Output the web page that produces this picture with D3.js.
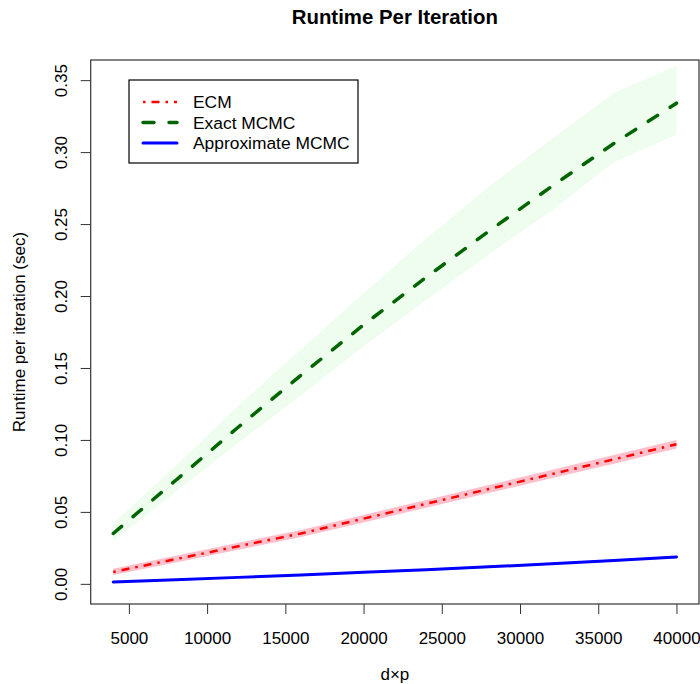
<!DOCTYPE html>
<html lang="en">
<head>
<meta charset="UTF-8">
<title>Runtime Per Iteration</title>
<script src="https://cdn.jsdelivr.net/npm/d3@7"></script>
<style>
  body { margin: 0; background: #fff; }
  text { font-family: "Liberation Sans", Arial, Helvetica, sans-serif; }
</style>
</head>
<body>
<script>
// problem size d x p
const sizes = [4000, 8000, 12000, 16000, 20000, 24000, 28000, 32000, 36000, 40000];

// ECM
const ecm    = [0.0083, 0.0172, 0.0261, 0.0350, 0.0453, 0.0556, 0.0659, 0.0762, 0.0865, 0.0970];
const ecmLo  = [0.0061, 0.0149, 0.0237, 0.0325, 0.0427, 0.0529, 0.0631, 0.0733, 0.0835, 0.0940];
const ecmHi  = [0.0105, 0.0195, 0.0285, 0.0375, 0.0479, 0.0583, 0.0687, 0.0791, 0.0895, 0.1000];

// Exact MCMC
const exact   = [0.035, 0.072, 0.109, 0.145, 0.180, 0.213, 0.245, 0.276, 0.306, 0.334];
const exactLo = [0.030, 0.064, 0.098, 0.131, 0.165, 0.197, 0.229, 0.259, 0.293, 0.312];
const exactHi = [0.042, 0.082, 0.124, 0.163, 0.202, 0.240, 0.276, 0.309, 0.341, 0.360];

// Approximate MCMC
const approx   = [0.0013, 0.0029, 0.0045, 0.0062, 0.0080, 0.0098, 0.0118, 0.0140, 0.0163, 0.0187];
const approxLo = [0.0008, 0.0024, 0.0040, 0.0056, 0.0074, 0.0092, 0.0111, 0.0133, 0.0156, 0.0180];
const approxHi = [0.0018, 0.0034, 0.0050, 0.0068, 0.0086, 0.0104, 0.0125, 0.0147, 0.0170, 0.0194];

const xTicks = [5000, 10000, 15000, 20000, 25000, 30000, 35000, 40000];
const yTicks = [0, 0.05, 0.10, 0.15, 0.20, 0.25, 0.30, 0.35];

const series = [
  { name: "ECM", mid: ecm, lo: ecmLo, hi: ecmHi, color: "red", band: "pink",
    width: 2.5, dash: "2.5,6,8,6", cap: "butt" },
  { name: "Exact MCMC", mid: exact, lo: exactLo, hi: exactHi, color: "#006400", band: "#effdef",
    width: 3.5, dash: "11,15", cap: "round" },
  { name: "Approximate MCMC", mid: approx, lo: approxLo, hi: approxHi, color: "blue", band: "lightskyblue",
    width: 3, dash: null, cap: "round" }
];

const width = 700, height = 684;
const mLeft = 90.7, mRight = 699, mTop = 60, mBottom = 604;

// R style 4% padding of the axis limits
const xlim = [4000, 40000], ylim = [0, 0.35];
const pad = (l) => [l[0] - 0.04 * (l[1] - l[0]), l[1] + 0.04 * (l[1] - l[0])];

const x = d3.scaleLinear().domain(pad(xlim)).range([mLeft, mRight]);
const y = d3.scaleLinear().domain(pad(ylim)).range([mBottom, mTop]);

const svg = d3.select("body").append("svg")
  .attr("width", width)
  .attr("height", height);

svg.append("clipPath").attr("id", "plotclip")
  .append("rect")
  .attr("x", mLeft).attr("y", mTop)
  .attr("width", mRight - mLeft).attr("height", mBottom - mTop);

const plot = svg.append("g").attr("clip-path", "url(#plotclip)");

// bands first
series.forEach(s => {
  const area = d3.area()
    .x((d, i) => x(sizes[i]))
    .y0((d, i) => y(s.lo[i]))
    .y1((d, i) => y(s.hi[i]));
  plot.append("path")
    .attr("d", area(sizes))
    .attr("fill", s.band)
    .attr("stroke", "none");
});

// then lines
series.forEach(s => {
  const line = d3.line()
    .x((d, i) => x(sizes[i]))
    .y(d => y(d));
  plot.append("path")
    .attr("d", line(s.mid))
    .attr("fill", "none")
    .attr("stroke", s.color)
    .attr("stroke-width", s.width)
    .attr("stroke-dasharray", s.dash)
    .attr("stroke-linecap", s.cap)
    .attr("stroke-linejoin", "round");
});

// axes
const xAxis = svg.append("g")
  .attr("transform", `translate(0,${mBottom})`)
  .call(d3.axisBottom(x).tickValues(xTicks).tickSize(10).tickPadding(18).tickFormat(d3.format("d")));
xAxis.select(".domain").remove();
xAxis.selectAll("line").attr("stroke", "#333");
xAxis.selectAll("text").attr("font-size", 17).attr("fill", "#000");

const yAxis = svg.append("g")
  .attr("transform", `translate(${mLeft},0)`)
  .call(d3.axisLeft(y).tickValues(yTicks).tickSize(10).tickFormat(d3.format(".2f")));
yAxis.select(".domain").remove();
yAxis.selectAll("line").attr("stroke", "#333");
yAxis.selectAll("text")
  .attr("font-size", 17)
  .attr("fill", "#000")
  .attr("x", null).attr("dy", null)
  .attr("text-anchor", "middle")
  .attr("transform", "translate(-24,0) rotate(-90)");

// box
svg.append("rect")
  .attr("x", mLeft).attr("y", mTop)
  .attr("width", mRight - mLeft).attr("height", mBottom - mTop)
  .attr("fill", "none")
  .attr("stroke", "#333")
  .attr("stroke-width", 1.2);

// titles
svg.append("text")
  .attr("x", (mLeft + mRight) / 2).attr("y", 24)
  .attr("text-anchor", "middle")
  .attr("font-size", 20.4).attr("font-weight", "bold")
  .text("Runtime Per Iteration");

svg.append("text")
  .attr("x", (mLeft + mRight) / 2).attr("y", 680)
  .attr("text-anchor", "middle")
  .attr("font-size", 17)
  .text("d\u00d7p");

svg.append("text")
  .attr("transform", `translate(25,${(mTop + mBottom) / 2}) rotate(-90)`)
  .attr("text-anchor", "middle")
  .attr("font-size", 17)
  .text("Runtime per iteration (sec)");

// legend
const legend = svg.append("g");
legend.append("rect")
  .attr("x", 129).attr("y", 80)
  .attr("width", 229).attr("height", 83)
  .attr("fill", "#fff")
  .attr("stroke", "#000")
  .attr("stroke-width", 1.2);

series.forEach((s, i) => {
  const ly = 102 + i * 20.5;
  legend.append("line")
    .attr("x1", 143).attr("x2", 177)
    .attr("y1", ly).attr("y2", ly)
    .attr("stroke", s.color)
    .attr("stroke-width", s.width)
    .attr("stroke-dasharray", s.dash)
    .attr("stroke-linecap", s.cap);
  legend.append("text")
    .attr("x", 193).attr("y", ly + 6)
    .attr("font-size", 17.4)
    .text(s.name);
});
</script>
</body>
</html>
